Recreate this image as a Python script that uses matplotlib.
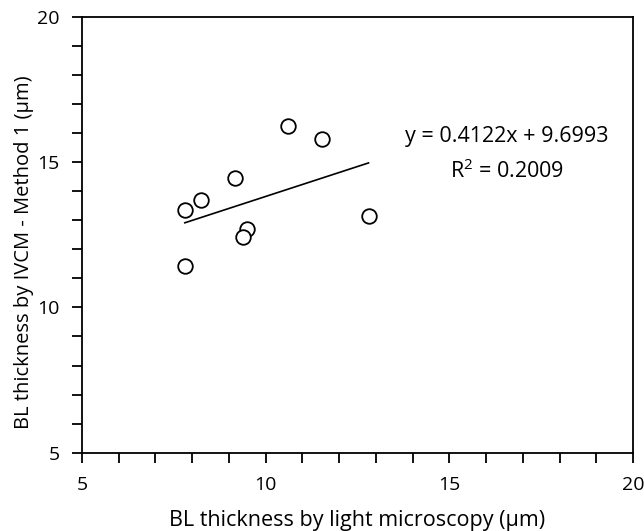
import numpy as np
import matplotlib
matplotlib.use('Agg')
import matplotlib.pyplot as plt
from matplotlib.ticker import MultipleLocator

plt.rcParams['font.family'] = ['Open Sans', 'DejaVu Sans']
plt.rcParams['mathtext.default'] = 'regular'

# light microscopy vs IVCM method 1 (um)
x_lm = [7.80, 8.23, 9.16, 10.60, 11.53, 12.80, 9.48, 9.37, 7.80]
y_ivcm = [13.36, 13.70, 14.45, 16.26, 15.79, 13.15, 12.70, 12.44, 11.44]

slope = 0.4122
intercept = 9.6993
r2 = 0.2009

fig = plt.figure(figsize=(6.44, 5.31), dpi=100)
ax = fig.add_axes([0.1273, 0.1475, 0.8556, 0.8205])

ax.plot(x_lm, y_ivcm, 'o', mfc='white', mec='black', ms=10.5, mew=1.3, zorder=3)

xf = np.array([min(x_lm), max(x_lm)])
ax.plot(xf, slope * xf + intercept, color='black', lw=1.2)

ax.text(16.57, 15.9, f'y = {slope}x + {intercept}', ha='center', va='center', fontsize=15.5)
ax.text(16.57, 14.7, f'R$^2$ = {r2}', ha='center', va='center', fontsize=15.5)

ax.set_xlim(5, 20)
ax.set_ylim(5, 20)
ax.xaxis.set_major_locator(MultipleLocator(5))
ax.yaxis.set_major_locator(MultipleLocator(5))
ax.xaxis.set_minor_locator(MultipleLocator(1))
ax.yaxis.set_minor_locator(MultipleLocator(1))
ax.tick_params(which='both', direction='out', length=7, width=1.3, top=False, right=False)
ax.tick_params(axis='x', pad=10, labelsize=14)
ax.tick_params(axis='y', pad=9, labelsize=14)
for s in ax.spines.values():
    s.set_linewidth(1.3)

ax.set_xlabel('BL thickness by light microscopy (μm)', fontsize=15.5, labelpad=11)
ax.set_ylabel('BL thickness by IVCM - Method 1 (μm)', fontsize=14.5)
ax.yaxis.set_label_coords(-0.087, 0.461)

fig.savefig('out.png', dpi=100)
